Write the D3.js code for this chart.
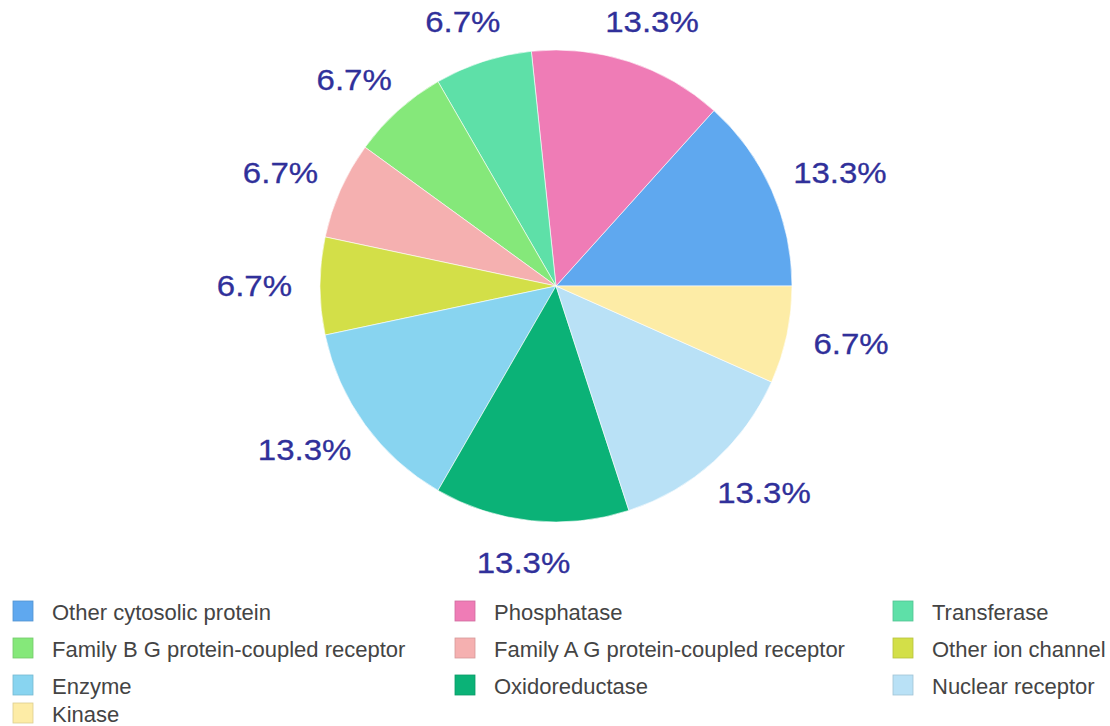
<!DOCTYPE html>
<html>
<head>
<meta charset="utf-8">
<script src="https://cdn.jsdelivr.net/npm/d3@7"></script>
<style>
  html, body { margin: 0; padding: 0; background: #fff; }
  svg { display: block; }
</style>
</head>
<body>
<svg id="chart" width="1110" height="726"></svg>
<script>
// Target classes and their counts (15 targets in total)
const categories = [
  "Other cytosolic protein", "Phosphatase", "Transferase",
  "Family B G protein-coupled receptor", "Family A G protein-coupled receptor",
  "Other ion channel", "Enzyme", "Oxidoreductase", "Nuclear receptor", "Kinase"
];
const counts = [2, 2, 1, 1, 1, 1, 2, 2, 2, 1];
const colors = [
  "#5fa8ef", "#ef7cb6", "#5ee0a8", "#85e87a", "#f5b0b0",
  "#d3df48", "#88d4f0", "#0bb277", "#b9e1f6", "#fdeca6"
];
// Legend order (three columns, filled row by row)
const legendOrder = [
  "Other cytosolic protein", "Phosphatase", "Transferase",
  "Family B G protein-coupled receptor", "Family A G protein-coupled receptor", "Other ion channel",
  "Enzyme", "Oxidoreductase", "Nuclear receptor",
  "Kinase"
];

const svg = d3.select("#chart");
const cx = 556, cy = 286, radius = 236;
const total = d3.sum(counts);
const data = categories.map((c, i) => ({ name: c, value: counts[i], color: colors[i] }));

// Slices run counter-clockwise from 3 o'clock
const pie = d3.pie()
  .sort(null)
  .value(d => d.value)
  .startAngle(Math.PI / 2)
  .endAngle(Math.PI / 2 - 2 * Math.PI);

const arc = d3.arc().innerRadius(0).outerRadius(radius);
const arcs = pie(data);

const g = svg.append("g").attr("transform", `translate(${cx},${cy})`);
g.selectAll("path.slice")
  .data(arcs)
  .join("path")
  .attr("class", "slice")
  .attr("d", arc)
  .attr("fill", d => d.data.color)
  .attr("stroke", "#fff")
  .attr("stroke-width", 0.6);

// Percentage labels placed just outside the rim
const fmt = v => (v / total * 100).toFixed(1) + "%";
const labelR = 264;
const stretch = 1.1;
g.selectAll("text.pct")
  .data(arcs)
  .join("text")
  .attr("class", "pct")
  .text(d => fmt(d.data.value))
  .attr("font-family", "'Liberation Sans', Arial, sans-serif")
  .attr("font-size", 30)
  .attr("fill", "#30309a")
  .attr("stroke", "#30309a")
  .attr("stroke-width", 0.3)
  .attr("text-anchor", "middle")
  .attr("dominant-baseline", "central")
  .each(function(d) {
    const a = (d.startAngle + d.endAngle) / 2; // d3 angle: 0 at 12 o'clock, clockwise
    const ux = Math.sin(a), uy = -Math.cos(a);
    const bb = this.getBBox();
    const x = ux * labelR + ux * bb.width * stretch / 2;
    const y = uy * labelR + uy * bb.height / 2 * 0.85;
    d3.select(this).attr("transform", `translate(${x},${y}) scale(${stretch},1)`);
  });

// Legend
const colX = [13, 455, 893];
const rowY = [611, 648, 685, 713];
const legend = svg.append("g").attr("class", "legend");
legendOrder.forEach((name, i) => {
  const idx = categories.indexOf(name);
  const col = i % 3, row = Math.floor(i / 3);
  const item = legend.append("g")
    .attr("transform", `translate(${colX[col]},${rowY[row]})`);
  item.append("rect")
    .attr("x", 0).attr("y", -10)
    .attr("width", 20).attr("height", 20)
    .attr("fill", colors[idx])
    .attr("stroke", d3.color(colors[idx]).darker(0.4))
    .attr("stroke-width", 0.8);
  item.append("text")
    .attr("x", 39).attr("y", 1)
    .attr("dominant-baseline", "central")
    .attr("font-family", "'Liberation Sans', Arial, sans-serif")
    .attr("font-size", 22)
    .attr("fill", "#444")
    .text(name);
});
</script>
</body>
</html>
